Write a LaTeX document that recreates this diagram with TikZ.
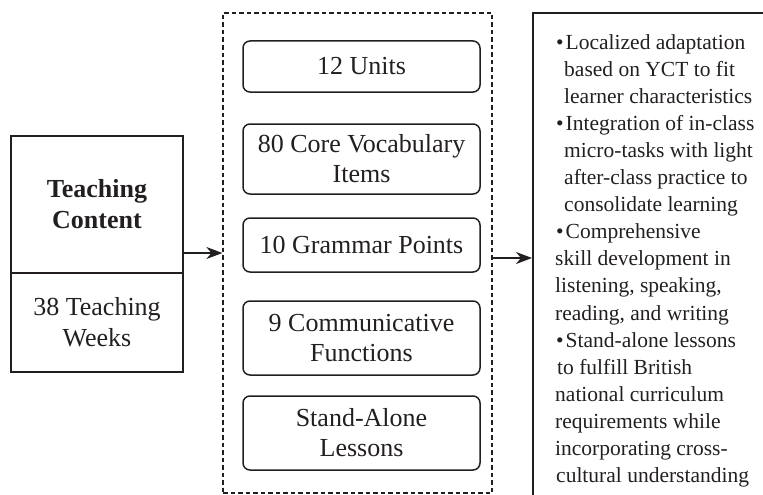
\documentclass[tikz,border=0pt]{standalone}
\usepackage{fontspec}
\setmainfont{Liberation Serif}
\usetikzlibrary{arrows.meta}
\definecolor{ink}{RGB}{35,31,32}
\newcommand\itemdot{\textbullet\hspace{2pt}}
\begin{document}
\begin{tikzpicture}[x=1pt,y=-1pt,
  every node/.style={text=ink},
  frame/.style={draw=ink, line width=1.7pt, inner sep=0pt, align=center,
    minimum width=172pt, font=\fontsize{26}{31}\selectfont},
  item/.style={draw=ink, line width=1.5pt, rounded corners=7pt, minimum width=237pt,
    align=center, inner sep=0pt, font=\fontsize{26}{30}\selectfont},
  group/.style={draw=ink, line width=1.2pt, dash pattern=on 4.5pt off 3pt,
    minimum width=269pt, minimum height=480pt, inner sep=0pt},
  flow/.style={draw=ink, line width=1.4pt, -{Stealth[length=16pt,width=12pt,inset=5pt]}},
  note/.style={font=\fontsize{21.5}{27}\selectfont, anchor=base west, inner sep=0pt}]
\useasboundingbox (0,0) rectangle (763,495);

% left block: title and duration
\node[frame, minimum height=137pt] (content) at (97,204.5) {\bfseries Teaching\\\bfseries Content};
\node[frame, minimum height=99pt] (weeks) at (97,322.5) {38 Teaching\\Weeks};

% middle group of content items
\node[group] (group) at (357.5,253) {};
\node[item, minimum height=51pt] (units) at (361.5,66.5) {12 Units};
\node[item, minimum height=70pt] (vocab) at (361.5,159) {80 Core Vocabulary\\Items};
\node[item, minimum height=54pt] (grammar) at (361.5,245) {10 Grammar Points};
\node[item, minimum height=74pt] (functions) at (361.5,338) {9 Communicative\\Functions};
\node[item, minimum height=74pt] (lessons) at (361.5,433) {Stand-Alone\\Lessons};

% right block: design features
\node[draw=ink, line width=1.7pt, minimum width=260pt, minimum height=500pt,
  inner sep=0pt, anchor=north west] (notes) at (532,12) {};
\foreach \x/\t [count=\i] in {
  556/{\itemdot Localized adaptation},
  564/{based on YCT to fit},
  564/{learner characteristics},
  556/{\itemdot Integration of in-class},
  564/{micro-tasks with light},
  564/{after-class practice to},
  564/{consolidate learning},
  556/{\itemdot Comprehensive},
  555/{skill development in},
  555/{listening, speaking,},
  555/{reading, and writing},
  556/{\itemdot Stand-alone lessons},
  557/{to fulfill British},
  555/{national curriculum},
  555/{requirements while},
  555/{incorporating cross-},
  556/{cultural understanding}}
  \node[note] (line\i) at (\x,{49+27.1*(\i-1)}) {\t};

% connectors
\draw[flow] (content.east |- group.west) -- (group.west);
\coordinate (out) at ([yshift=-5pt]group.east);
\draw[flow] (out) -- (out -| notes.west);
\end{tikzpicture}
\end{document}
